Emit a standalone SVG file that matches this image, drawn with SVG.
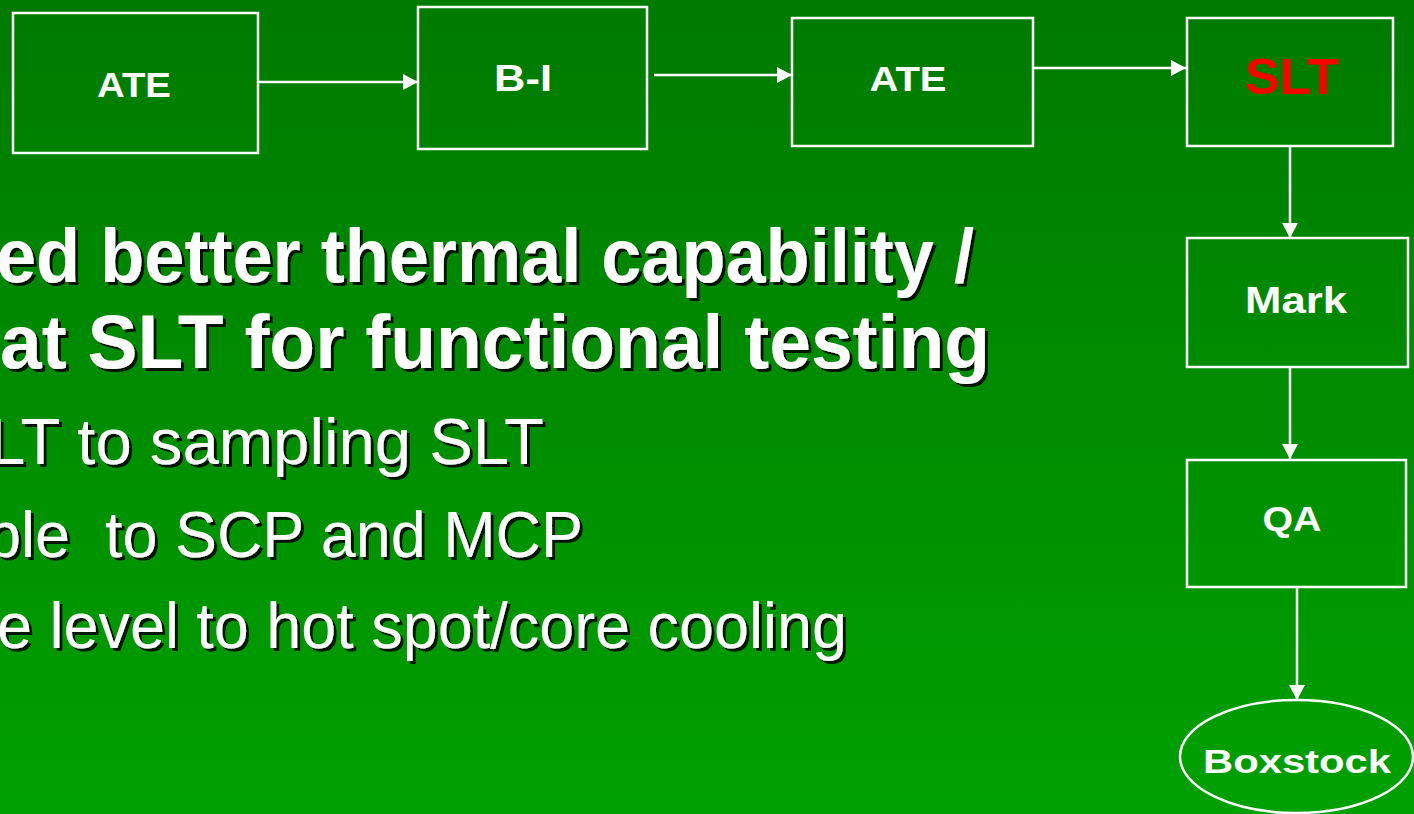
<svg xmlns="http://www.w3.org/2000/svg" width="1414" height="814" viewBox="0 0 1414 814">
  <defs>
    <linearGradient id="bg" x1="0" y1="0" x2="0" y2="1">
      <stop offset="0" stop-color="#007a00"/>
      <stop offset="1" stop-color="#00a000"/>
    </linearGradient>
    <filter id="shadow" x="-5%" y="-20%" width="110%" height="140%">
      <feOffset in="SourceAlpha" dx="3" dy="3" result="off"/>
      <feFlood flood-color="#000000" flood-opacity="0.85"/>
      <feComposite in2="off" operator="in" result="sh"/>
      <feMerge>
        <feMergeNode in="sh"/>
        <feMergeNode in="SourceGraphic"/>
      </feMerge>
    </filter>
    <marker id="arrow" markerUnits="userSpaceOnUse" markerWidth="16" markerHeight="16" refX="15" refY="8" orient="auto">
      <path d="M0,0 L15,8 L0,16 z" fill="#ffffff"/>
    </marker>
  </defs>
  <style>
    .box { fill: none; stroke: #ffffff; stroke-width: 2.5; }
    .lbl { font-family: "Liberation Sans", Arial, sans-serif; font-weight: bold; fill: #ffffff; text-anchor: middle; }
    .conn { stroke: #ffffff; stroke-width: 2.5; fill: none; marker-end: url(#arrow); }
    .big { font-family: "Liberation Sans", Arial, sans-serif; font-weight: bold; font-size: 76px; fill: #ffffff; }
    .reg { font-family: "Liberation Sans", Arial, sans-serif; font-size: 65px; fill: #ffffff; }
  </style>
  <rect x="0" y="0" width="1414" height="814" fill="url(#bg)"/>

  <g id="body-text" filter="url(#shadow)">
    <text class="big" x="-4" y="282" textLength="978" lengthAdjust="spacingAndGlyphs">ed better thermal capability /</text>
    <text class="big" x="0" y="368" textLength="990" lengthAdjust="spacingAndGlyphs">at SLT for functional testing</text>
    <text class="reg" x="-11" y="464" textLength="555" lengthAdjust="spacingAndGlyphs">LT to sampling SLT</text>
    <text class="reg" x="-14" y="557" textLength="597" lengthAdjust="spacingAndGlyphs" xml:space="preserve">ble  to SCP and MCP</text>
    <text class="reg" x="-3" y="648" textLength="850" lengthAdjust="spacingAndGlyphs">e level to hot spot/core cooling</text>
  </g>

  <g id="connectors">
    <line class="conn" x1="259" y1="82" x2="418" y2="82"/>
    <line class="conn" x1="654" y1="75" x2="792" y2="75"/>
    <line class="conn" x1="1033" y1="68" x2="1186" y2="68"/>
    <line class="conn" x1="1290" y1="146" x2="1290" y2="238"/>
    <line class="conn" x1="1290" y1="367" x2="1290" y2="459"/>
    <line class="conn" x1="1297" y1="587" x2="1297" y2="700"/>
  </g>

  <g id="node-ate1">
    <rect class="box" x="13" y="13" width="245" height="140"/>
    <text class="lbl" x="134" y="97" font-size="35" textLength="74" lengthAdjust="spacingAndGlyphs">ATE</text>
  </g>
  <g id="node-bi">
    <rect class="box" x="418" y="7" width="229" height="142"/>
    <text class="lbl" x="523" y="91" font-size="36" textLength="58" lengthAdjust="spacingAndGlyphs">B-I</text>
  </g>
  <g id="node-ate2">
    <rect class="box" x="792" y="18" width="241" height="128"/>
    <text class="lbl" x="908" y="91" font-size="35" textLength="77" lengthAdjust="spacingAndGlyphs">ATE</text>
  </g>
  <g id="node-slt">
    <rect class="box" x="1187" y="18" width="206" height="128"/>
    <text class="lbl" x="1292" y="94" font-size="50" style="fill:#ff0000" textLength="94" lengthAdjust="spacingAndGlyphs">SLT</text>
  </g>
  <g id="node-mark">
    <rect class="box" x="1187" y="238" width="221" height="129"/>
    <text class="lbl" x="1296" y="313" font-size="36" textLength="102" lengthAdjust="spacingAndGlyphs">Mark</text>
  </g>
  <g id="node-qa">
    <rect class="box" x="1187" y="460" width="219" height="127"/>
    <text class="lbl" x="1292" y="531" font-size="35" textLength="59" lengthAdjust="spacingAndGlyphs">QA</text>
  </g>
  <g id="node-boxstock">
    <ellipse class="box" cx="1296.5" cy="756.5" rx="116.5" ry="56.5"/>
    <text class="lbl" x="1297" y="773" font-size="34" textLength="188" lengthAdjust="spacingAndGlyphs">Boxstock</text>
  </g>
</svg>
